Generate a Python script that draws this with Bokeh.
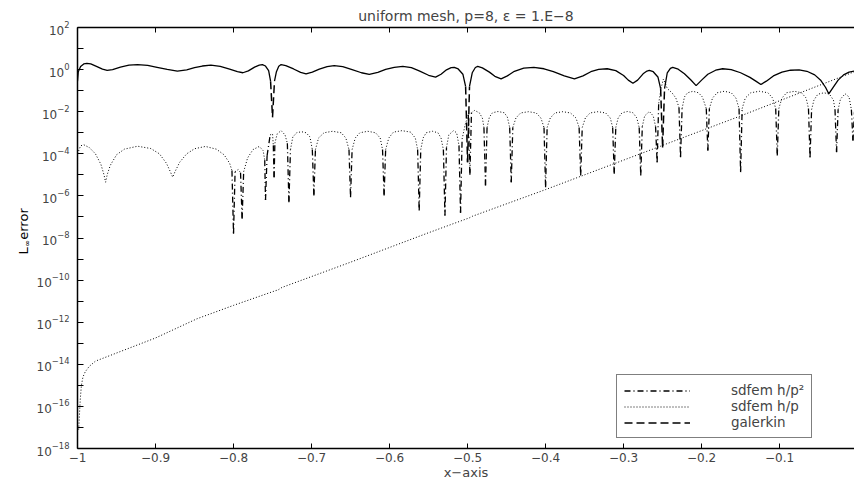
import math
import numpy as np
from bokeh.plotting import figure
from bokeh.layouts import row
from bokeh.models import (FixedTicker, LinearAxis, Label, Legend, LegendItem,
                          Range1d, CustomJSTickFormatter)
from bokeh.embed import file_html
from bokeh.resources import INLINE

# ---------------- data ----------------
title_text = "uniform mesh, p=8, \u03b5 = 1.E\u22128"
x_label_text = "x\u2212axis"
y_label_parts = ["L", "\u221e", "error"]
series_names = ["sdfem h/p\u00b2", "sdfem h/p", "galerkin"]

x_ticks = [-1.0, -0.9, -0.8, -0.7, -0.6, -0.5, -0.4, -0.3, -0.2, -0.1]
x_tick_labels = ["\u22121", "\u22120.9", "\u22120.8", "\u22120.7", "\u22120.6",
                 "\u22120.5", "\u22120.4", "\u22120.3", "\u22120.2", "\u22120.1"]
y_tick_exponents = [-18, -16, -14, -12, -10, -8, -6, -4, -2, 0, 2]
y_minor_exponents = [-17, -15, -13, -11, -9, -7, -5, -3, -1, 1]

# galerkin  (x, log10 error)
galerkin_x = [-1.000, -0.999, -0.996, -0.992, -0.988, -0.983, -0.975, -0.968, -0.962, -0.955,
              -0.945, -0.934, -0.923, -0.910, -0.898, -0.885, -0.872, -0.860, -0.850, -0.840,
              -0.829, -0.817, -0.805, -0.795, -0.788, -0.781, -0.773, -0.767, -0.763, -0.759,
              -0.755, -0.7525, -0.750, -0.7475, -0.745, -0.742, -0.739, -0.733, -0.723, -0.714,
              -0.707, -0.699, -0.690, -0.680, -0.671, -0.660, -0.648, -0.636, -0.626, -0.615,
              -0.605, -0.594, -0.583, -0.572, -0.562, -0.550, -0.541, -0.534, -0.527, -0.521,
              -0.517, -0.512, -0.506, -0.5025, -0.500, -0.4975, -0.494, -0.490, -0.487, -0.481,
              -0.472, -0.465, -0.457, -0.449, -0.440, -0.428, -0.415, -0.402, -0.390, -0.376,
              -0.363, -0.352, -0.342, -0.332, -0.321, -0.310, -0.300, -0.294, -0.288, -0.282,
              -0.275, -0.270, -0.267, -0.262, -0.256, -0.2525, -0.250, -0.2475, -0.244, -0.240,
              -0.237, -0.230, -0.222, -0.214, -0.207, -0.200, -0.192, -0.182, -0.173, -0.162,
              -0.150, -0.138, -0.130, -0.124, -0.117, -0.108, -0.097, -0.086, -0.075, -0.065,
              -0.055, -0.047, -0.041, -0.037, -0.032, -0.025, -0.018, -0.011, -0.004]
galerkin_log10 = [-0.55, -0.10, 0.15, 0.27, 0.30, 0.27, 0.14, 0.02, -0.04, 0.00,
                  0.12, 0.21, 0.24, 0.20, 0.11, 0.01, -0.07, -0.01, 0.09, 0.17,
                  0.21, 0.15, 0.02, -0.10, -0.15, -0.06, 0.12, 0.21, 0.24, 0.17,
                  -0.05, -0.55, -2.26, -0.55, -0.10, 0.16, 0.24, 0.19, 0.03, -0.13,
                  -0.20, -0.12, 0.02, 0.14, 0.19, 0.14, 0.00, -0.15, -0.23, -0.13,
                  0.01, 0.11, 0.15, 0.09, -0.06, -0.27, -0.36, -0.22, -0.01, 0.09,
                  0.11, 0.03, -0.22, -0.80, -4.40, -0.80, -0.15, 0.10, 0.15, 0.08,
                  -0.12, -0.32, -0.44, -0.30, -0.08, 0.07, 0.11, 0.04, -0.10, -0.30,
                  -0.44, -0.30, -0.10, 0.01, 0.04, -0.05, -0.28, -0.50, -0.65, -0.50,
                  -0.20, -0.07, -0.04, -0.10, -0.35, -0.90, -3.70, -0.90, -0.15, 0.06,
                  0.11, 0.02, -0.20, -0.48, -0.76, -0.50, -0.22, -0.03, 0.04, 0.00,
                  -0.15, -0.37, -0.56, -0.71, -0.55, -0.30, -0.12, -0.03, -0.01, -0.08,
                  -0.25, -0.52, -0.85, -1.15, -0.88, -0.50, -0.25, -0.12, -0.07]

# sdfem h/p^2  (x, log10 error)
hp2_x = [-1.000, -0.996, -0.992, -0.985, -0.977, -0.970, -0.966, -0.964, -0.962, -0.958,
         -0.950, -0.940, -0.923, -0.906, -0.895, -0.886, -0.881, -0.878, -0.875, -0.869,
         -0.860, -0.850, -0.836, -0.822, -0.812, -0.805, -0.802, -0.800, -0.798, -0.794,
         -0.791, -0.789, -0.787, -0.782, -0.775, -0.767, -0.762, -0.760, -0.759, -0.757,
         -0.753, -0.750, -0.749, -0.748, -0.747, -0.744, -0.739, -0.734, -0.731, -0.729,
         -0.727, -0.724, -0.719, -0.713, -0.707, -0.702, -0.699, -0.697,
         -0.695, -0.691, -0.684, -0.673, -0.662, -0.656, -0.652, -0.650,
         -0.648, -0.644, -0.638, -0.628, -0.618, -0.612, -0.609, -0.607,
         -0.605, -0.601, -0.595, -0.584, -0.573, -0.567, -0.564, -0.562,
         -0.560, -0.557, -0.553, -0.545, -0.538, -0.534, -0.531, -0.529,
         -0.527, -0.524, -0.518, -0.514, -0.511, -0.509,
         -0.507, -0.503, -0.499, -0.497, -0.495, -0.491,
         -0.485, -0.481, -0.479, -0.477,
         -0.475, -0.472, -0.468, -0.461, -0.453, -0.449, -0.446, -0.444,
         -0.442, -0.438, -0.432, -0.422, -0.412, -0.406, -0.402, -0.400,
         -0.398, -0.394, -0.388, -0.378, -0.368, -0.361, -0.357, -0.355,
         -0.353, -0.349, -0.343, -0.333, -0.323, -0.317, -0.314, -0.312,
         -0.310, -0.307, -0.302, -0.295, -0.288, -0.283, -0.280, -0.278,
         -0.276, -0.273, -0.267, -0.262, -0.259, -0.257,
         -0.255, -0.252, -0.249, -0.247, -0.244, -0.238, -0.233, -0.229, -0.227,
         -0.225, -0.222, -0.218, -0.211, -0.204, -0.199, -0.194, -0.192,
         -0.190, -0.186, -0.180, -0.171, -0.162, -0.156, -0.152, -0.150,
         -0.148, -0.144, -0.137, -0.126, -0.115, -0.109, -0.105, -0.103,
         -0.101, -0.097, -0.091, -0.081, -0.072, -0.066, -0.063, -0.061,
         -0.059, -0.056, -0.051, -0.043, -0.036, -0.031, -0.029, -0.027,
         -0.025, -0.022, -0.016, -0.011, -0.008, -0.006, -0.004]
hp2_log10 = [-4.00, -3.62, -3.57, -3.70, -4.00, -4.50, -5.00, -5.35, -5.00, -4.55,
             -4.05, -3.78, -3.64, -3.75, -4.00, -4.45, -4.85, -5.11, -4.85, -4.40,
             -4.00, -3.76, -3.65, -3.78, -4.05, -4.45, -4.80, -7.80, -4.85, -4.75,
             -4.90, -7.09, -4.85, -4.20, -3.80, -3.65, -3.85, -4.30, -6.19, -4.10,
             -3.10, -3.05, -3.60, -5.11, -3.50, -3.05, -2.90, -3.10, -3.50, -6.30,
             -3.80, -3.20, -3.00, -2.95, -3.00, -3.20, -3.80, -5.98,
             -3.80, -3.25, -3.00, -2.93, -3.00, -3.25, -3.80, -6.06,
             -3.80, -3.25, -3.00, -2.93, -3.00, -3.25, -3.80, -5.98,
             -3.80, -3.25, -2.97, -2.90, -2.97, -3.25, -3.80, -6.69,
             -3.80, -3.25, -3.00, -2.93, -3.00, -3.25, -3.80, -6.93,
             -3.70, -3.10, -2.90, -3.00, -3.60, -6.80,
             -3.30, -2.60, -2.15, -5.00, -2.05, -1.94,
             -2.05, -2.30, -2.75, -5.50,
             -2.75, -2.25, -2.05, -1.99, -2.05, -2.25, -2.75, -5.35,
             -2.75, -2.30, -2.06, -2.00, -2.06, -2.30, -2.75, -5.59,
             -2.75, -2.30, -2.06, -2.00, -2.06, -2.30, -2.75, -5.03,
             -2.75, -2.30, -2.06, -2.00, -2.06, -2.30, -2.75, -4.95,
             -2.75, -2.30, -2.05, -1.99, -2.05, -2.30, -2.75, -5.03,
             -2.70, -2.20, -1.99, -2.20, -2.70, -4.40,
             -1.60, -0.90, -0.45, -0.60, -0.90, -1.10, -1.35, -1.80, -4.16,
             -1.85, -1.30, -1.10, -1.03, -1.10, -1.30, -1.85, -3.84,
             -1.85, -1.35, -1.10, -1.03, -1.10, -1.35, -1.85, -4.87,
             -1.85, -1.35, -1.10, -1.03, -1.10, -1.35, -1.85, -4.08,
             -1.85, -1.35, -1.10, -1.03, -1.10, -1.35, -1.85, -4.16,
             -1.90, -1.45, -1.17, -1.10, -1.17, -1.45, -1.90, -3.92,
             -1.90, -1.40, -1.15, -1.30, -1.90, -3.37, -2.00]

# sdfem h/p  (x, log10 error)
hp_x = [-0.9985, -0.9975, -0.9965, -0.995, -0.993, -0.990, -0.985, -0.977, -0.900, -0.847,
        -0.800, -0.746, -0.743, -0.738, -0.650, -0.550, -0.502, -0.498, -0.494, -0.400,
        -0.300, -0.252, -0.248, -0.150, -0.004]
hp_log10 = [-17.1, -16.4, -15.7, -15.0, -14.6, -14.35, -14.1, -13.85, -12.75, -11.84,
            -11.2, -10.5, -10.47, -10.35, -9.15, -7.75, -7.10, -7.05, -6.97, -5.70,
            -4.30, -3.63, -3.57, -2.20, -0.10]

# ---------------- figure ----------------
FONT = "DejaVu Sans"
LW = 32  # width of the strip that carries the y label
p = figure(width=854 - LW, height=482, x_range=Range1d(-1.0, -0.004), y_range=Range1d(1e-18, 1e2),
           y_axis_type="log", output_backend="svg", toolbar_location=None,
           min_border_left=77 - LW, min_border_right=0, min_border_top=27, min_border_bottom=34,
           background_fill_color="white", border_fill_color="white")
p.outline_line_color = None
p.xgrid.visible = False
p.ygrid.visible = False

p.title.text = title_text
p.title.align = "center"
p.title.text_font = FONT
p.title.text_font_size = "14px"
p.title.text_font_style = "normal"
p.title.standoff = 8

yticker = FixedTicker(ticks=[10.0 ** e for e in y_tick_exponents],
                      minor_ticks=[10.0 ** e for e in y_minor_exponents])
xticker = FixedTicker(ticks=x_ticks, minor_ticks=[])

for ax in p.xaxis:
    ax.ticker = xticker
    ax.major_label_overrides = {t: s for t, s in zip(x_ticks, x_tick_labels)}
    ax.major_tick_in = 5
    ax.major_tick_out = 0
    ax.minor_tick_line_color = None
    ax.major_label_standoff = 4
    ax.major_label_text_font = FONT
    ax.major_label_text_font_size = "12px"
    ax.axis_line_width = 1.5
    ax.axis_label = x_label_text
    ax.axis_label_standoff = 0
    ax.axis_label_text_font = FONT
    ax.axis_label_text_font_size = "13px"
    ax.axis_label_text_font_style = "normal"
for ax in p.yaxis:
    ax.ticker = yticker
    ax.major_tick_in = 6
    ax.major_tick_out = 0
    ax.minor_tick_in = 6
    ax.minor_tick_out = 0
    ax.major_label_standoff = 8
    ax.major_label_text_font = FONT
    ax.major_label_text_font_size = "12px"
    ax.axis_line_width = 1.5

blank = CustomJSTickFormatter(code="return ''")
top_axis = LinearAxis(ticker=xticker, formatter=blank, major_tick_in=5, major_tick_out=0,
                      minor_tick_line_color=None, major_label_standoff=0,
                      major_label_text_font_size="0px", axis_line_width=1.5)
p.add_layout(top_axis, "above")

# ---- galerkin: solid where smooth, dashed on the steep spikes
gx = np.array(galerkin_x)
gl = np.array(galerkin_log10)
gy = 10.0 ** gl
g_steep = np.abs(np.diff(gl)) > 0.9
g_solid = gy.copy()
for i in range(1, len(gl) - 1):
    if g_steep[i - 1] and g_steep[i]:
        g_solid[i] = np.nan
p.line(gx, g_solid, line_color="black", line_width=1.3)
gal_r = p.segment(x0=gx[:-1][g_steep], y0=gy[:-1][g_steep], x1=gx[1:][g_steep], y1=gy[1:][g_steep],
                  line_color="black", line_width=1.5, line_dash="8 4")

# ---- sdfem h/p^2: dotted arches, dash-dot spikes
hx = np.array(hp2_x)
hl = np.array(hp2_log10)
hy = 10.0 ** hl
h_steep = np.abs(np.diff(hl)) > 0.9
h_dot = hy.copy()
for i in range(1, len(hl) - 1):
    if h_steep[i - 1] and h_steep[i]:
        h_dot[i] = np.nan
p.line(hx, h_dot, line_color="black", line_width=1.0, line_dash="1 2")
hp2_r = p.segment(x0=hx[:-1][h_steep], y0=hy[:-1][h_steep], x1=hx[1:][h_steep], y1=hy[1:][h_steep],
                  line_color="black", line_width=1.3, line_dash="6 3 1 3")

# ---- sdfem h/p: dotted
hp_r = p.line(hp_x, [10.0 ** v for v in hp_log10], line_color="black", line_width=1.0,
              line_dash="1 2")

legend = Legend(items=[LegendItem(label=series_names[0], renderers=[hp2_r]),
                       LegendItem(label=series_names[1], renderers=[hp_r]),
                       LegendItem(label=series_names[2], renderers=[gal_r])],
                location=(539, 10), border_line_color="black", border_line_width=1,
                background_fill_color="white", background_fill_alpha=1.0,
                label_text_font=FONT, label_text_font_size="13.5px",
                glyph_width=66, glyph_height=13, label_height=13, label_standoff=41,
                padding=7, spacing=0, margin=0)
p.add_layout(legend)

# ---- strip on the left with the y label  L_inf error (rotated)
ylab = figure(width=LW, height=482, x_range=Range1d(0, LW), y_range=Range1d(0, 482),
              output_backend="svg", toolbar_location=None, x_axis_location=None,
              y_axis_location=None, min_border=0, min_border_left=0, min_border_right=0,
              min_border_top=0, min_border_bottom=0)
ylab.outline_line_color = None
ylab.xgrid.visible = False
ylab.ygrid.visible = False
lab_kw = dict(angle=math.pi / 2, text_font=FONT, text_align="left",
              text_baseline="alphabetic", text_color="black")
ylab.add_layout(Label(x=23, y=222, text=y_label_parts[0], text_font_size="13px", **lab_kw))
ylab.add_layout(Label(x=26.5, y=231, text=y_label_parts[1], text_font_size="8px", **lab_kw))
ylab.add_layout(Label(x=23, y=239, text=y_label_parts[2], text_font_size="13px", **lab_kw))

layout = row(ylab, p)
open("out.html", "w").write(file_html(layout, INLINE))
